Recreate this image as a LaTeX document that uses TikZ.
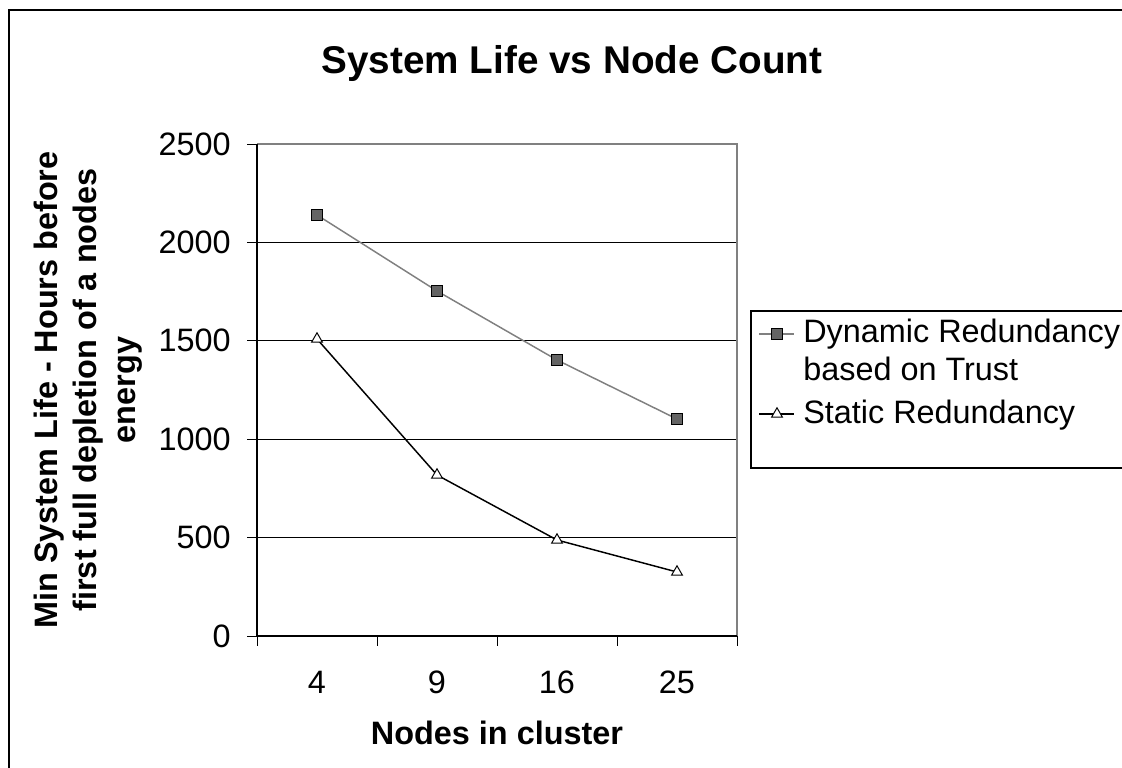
\documentclass[tikz,border=0pt]{standalone}
\usepackage{fontspec}
\setmainfont{Liberation Sans}
\usetikzlibrary{shapes.geometric}
\definecolor{sergray}{HTML}{808080}
\definecolor{markfill}{HTML}{646464}
\tikzset{
  lab/.style={inner sep=0pt, font=\fontsize{24.3}{29}\selectfont},
  blab/.style={inner sep=0pt, font=\fontsize{24.3}{29}\selectfont\bfseries},
  grid/.style={line width=0.75pt, black},
  sqmark/.style={draw=black, fill=markfill, rectangle, inner sep=0pt, minimum size=8pt, line width=0.9pt},
  trimark/.style={draw=black, fill=white, isosceles triangle, isosceles triangle apex angle=60, shape border rotate=90, inner sep=0pt, minimum height=7pt, line width=0.75pt},
  dynline/.style={sergray, line width=1.1pt},
  statline/.style={black, line width=1.1pt},
}
\begin{document}
\begin{tikzpicture}[x=0.75pt,y=-0.75pt]
\useasboundingbox (0,0) rectangle (1122,768);
\clip (0,0) rectangle (1122,768);
\fill[white] (0,0) rectangle (1122,768);
% outer chart border
\draw[black, line width=1.5pt] (9,10) rectangle (1150,800);
% title
\node[inner sep=0pt, anchor=base, font=\fontsize{29}{34}\selectfont\bfseries] (title) at (572,73) {System Life vs Node Count};
% gridlines
\foreach \yy in {242,340,439,537} { \draw[grid] (257,\yy) -- (737,\yy); }
% plot border (gray)
\draw[sergray, line width=0.9pt] (257,144) -- (737,144) -- (737,636);
% axes
\draw[black, line width=0.9pt] (257,144) -- (257,636) -- (737,636);
% y ticks
\foreach \yy in {144,242,340,439,537,636} { \draw[black, line width=0.75pt] (247,\yy) -- (257,\yy); }
% x ticks
\foreach \xx in {257,377,497,617,737} { \draw[black, line width=0.75pt] (\xx,636) -- (\xx,646); }
% y tick labels
\node[lab, anchor=east] (y2500) at (231,144) {2500};
\node[lab, anchor=east] (y2000) at (231,242) {2000};
\node[lab, anchor=east] (y1500) at (231,340) {1500};
\node[lab, anchor=east] (y1000) at (231,439) {1000};
\node[lab, anchor=east] (y500) at (231,537) {500};
\node[lab, anchor=east] (y0) at (231,636) {0};
% x labels
\node[lab, anchor=base] (x4) at (317,693) {4};
\node[lab, anchor=base] (x9) at (437,693) {9};
\node[lab, anchor=base] (x16) at (557,693) {16};
\node[lab, anchor=base] (x25) at (677,693) {25};
% axis titles
\node[blab, anchor=base] (xtitle) at (497,744) {Nodes in cluster};
\node[blab, rotate=90, align=center, font=\fontsize{24.3}{29.25}\selectfont\bfseries] (ytitle) at (88,390) {Min System Life - Hours before\\first full depletion of a nodes\\energy};
% data: Dynamic
\coordinate (d1) at (317,215);
\coordinate (d2) at (437,291);
\coordinate (d3) at (557,360);
\coordinate (d4) at (677,419);
\draw[dynline] (d1) -- (d2) -- (d3) -- (d4);
\node[sqmark] (m1) at (d1) {};
\node[sqmark] (m2) at (d2) {};
\node[sqmark] (m3) at (d3) {};
\node[sqmark] (m4) at (d4) {};
% data: Static
\coordinate (s1) at (317,339);
\coordinate (s2) at (437,475);
\coordinate (s3) at (557,540);
\coordinate (s4) at (677,572);
\draw[statline] (s1) -- (s2) -- (s3) -- (s4);
\node[trimark] (t1) at (s1) {};
\node[trimark] (t2) at (s2) {};
\node[trimark] (t3) at (s3) {};
\node[trimark] (t4) at (s4) {};
% legend
\draw[black, line width=0.9pt, fill=white] (751,311) rectangle (1150,468);
\coordinate (l1a) at (759,334);
\coordinate (l1b) at (794,334);
\draw[dynline] (l1a) -- (l1b);
\node[sqmark] (lm1) at (777,334) {};
\node[lab, anchor=base west] (leg1) at (803,342) {Dynamic Redundancy};
\node[lab, anchor=base west] (leg1b) at (803,380) {based on Trust};
\coordinate (l2a) at (759,414);
\coordinate (l2b) at (794,414);
\draw[statline] (l2a) -- (l2b);
\node[trimark] (lm2) at (777,414) {};
\node[lab, anchor=base west] (leg2) at (803,423) {Static Redundancy};
\end{tikzpicture}
\end{document}
